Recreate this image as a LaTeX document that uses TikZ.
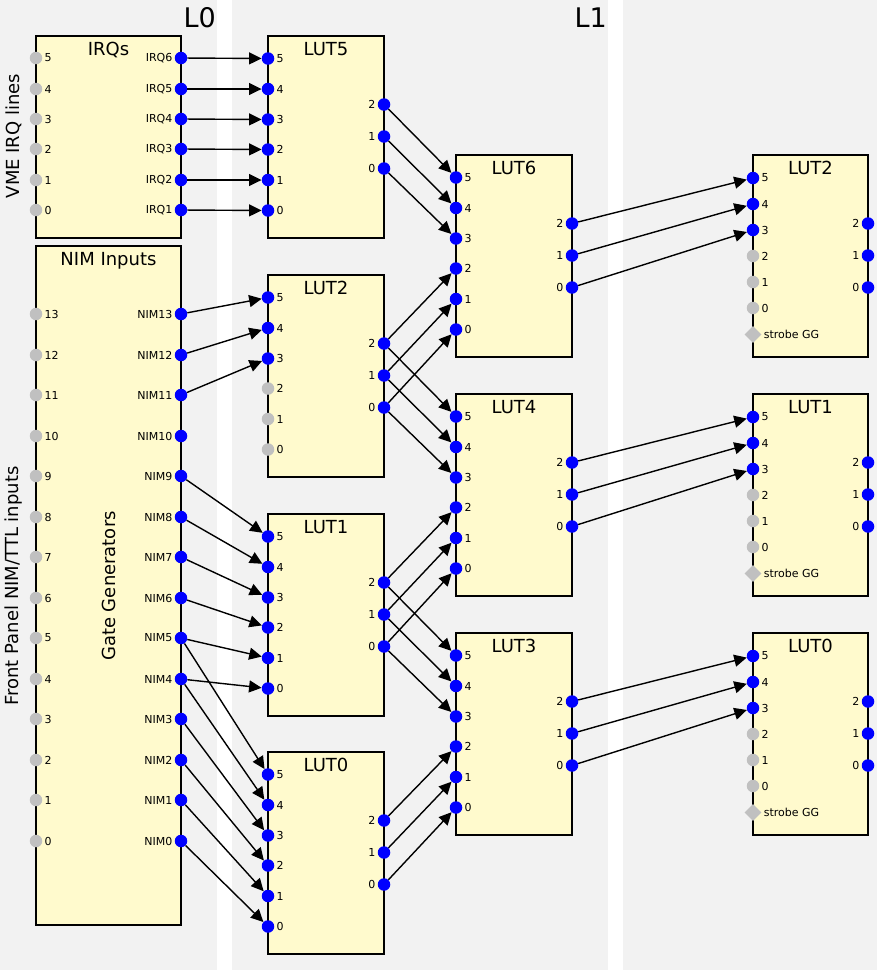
\documentclass[tikz,border=0pt]{standalone}
\usepackage{fontspec}
\setmainfont{DejaVu Sans}
\usepackage{tikz}
\usetikzlibrary{
  arrows.meta,
  shapes.geometric,
}
\definecolor{panelgray}{HTML}{F2F2F2}
\definecolor{lutyellow}{HTML}{FFFACD}
\definecolor{portgray}{HTML}{C0C0C0}

\begin{document}
\begin{tikzpicture}[
    x=1pt, y=-1pt,
    box/.style={draw=black, fill=lutyellow, line width=1.5pt, inner sep=0pt, outer sep=0pt, anchor=north west},
    lut/.style={box, minimum width=116pt, minimum height=202pt},
    ttl/.style={anchor=base, font=\fontsize{18}{20}\selectfont},
    sidetxt/.style={rotate=90, font=\fontsize{18}{20}\selectfont},
    lvl/.style={anchor=base east, inner sep=0pt, font=\fontsize{27}{30}\selectfont},
    live/.style={circle, fill=blue, inner sep=0pt, minimum size=12.5pt},
    idle/.style={circle, fill=portgray, inner sep=0pt, minimum size=12.5pt},
    gg/.style={diamond, fill=portgray, inner sep=0pt, minimum size=17pt},
    lbl/.style={font=\fontsize{11}{12}\selectfont, inner sep=2pt},
    wire/.style={draw=black, line width=1.4pt, -{Triangle[length=12.5pt, width=12pt]}},
  ]
  \useasboundingbox (0,0) rectangle (877,970);
  \fill[panelgray] (0,0) rectangle (217,970);
  \fill[panelgray] (232,0) rectangle (608,970);
  \fill[panelgray] (623,0) rectangle (877,970);
  \node[lvl] (lev0) at (216,27) {L0};
  \node[lvl] (lev1) at (607,27) {L1};

  \node[sidetxt] (vme) at (14,136) {VME IRQ lines};
  \node[sidetxt] (fp) at (14,586) {Front Panel NIM/TTL inputs};

  \node[box, minimum width=145pt, minimum height=202pt] (irqs) at (36,36) {};
  \node[ttl] (irqs-t) at (108.5,55) {IRQs};
  \foreach \i/\y/\l in {6/58/5, 5/89/4, 4/119/3, 3/149/2, 2/180/1, 1/210/0} {
    \node[idle, label={[lbl]right:\l}] (irqs-in\l) at (36,\y) {};
    \node[live, label={[lbl]left:IRQ\i}] (irqs-irq\i) at (181,\y) {};
  }

  \node[box, minimum width=145pt, minimum height=679pt] (nims) at (36,246) {};
  \node[ttl] (nims-t) at (108.5,265) {NIM Inputs};
  \node[sidetxt] (gg-t) at (108.5,586) {Gate Generators};
  \foreach \i/\y in {13/314, 12/355, 11/395, 10/436, 9/476, 8/517, 7/557,
                     6/598, 5/638, 4/679, 3/719, 2/760, 1/800, 0/841} {
    \node[idle, label={[lbl]right:\i}] (nims-in\i) at (36,\y) {};
    \node[live, label={[lbl]left:NIM\i}] (nims-nim\i) at (181,\y) {};
  }

  \foreach \n/\y/\s in {5/36/live, 2/275/idle, 1/514/live, 0/752/live} {
    \begin{scope}[shift={(268,\y)}]
      \node[lut] (l0lut\n) at (0,0) {};
      \node[ttl] (l0lut\n-t) at (58,19) {LUT\n};
      \foreach \p/\dy in {5/22.5, 4/53, 3/83.5}
        \node[live, label={[lbl]right:\p}] (l0lut\n-in\p) at (0,\dy) {};
      \foreach \p/\dy in {2/113.5, 1/144, 0/174.5}
        \node[\s, label={[lbl]right:\p}] (l0lut\n-in\p) at (0,\dy) {};
      \foreach \p/\dy in {2/68.5, 1/100.5, 0/132.5}
        \node[live, label={[lbl]left:\p}] (l0lut\n-out\p) at (116,\dy) {};
    \end{scope}
  }

  \foreach \n/\y in {6/155, 4/394, 3/633} {
    \begin{scope}[shift={(456,\y)}]
      \node[lut] (l1lut\n) at (0,0) {};
      \node[ttl] (l1lut\n-t) at (58,19) {LUT\n};
      \foreach \p/\dy in {5/22.5, 4/53, 3/83.5, 2/113.5, 1/144, 0/174.5}
        \node[live, label={[lbl]right:\p}] (l1lut\n-in\p) at (0,\dy) {};
      \foreach \p/\dy in {2/68.5, 1/100.5, 0/132.5}
        \node[live, label={[lbl]left:\p}] (l1lut\n-out\p) at (116,\dy) {};
    \end{scope}
  }

  \foreach \n/\y in {2/155, 1/394, 0/633} {
    \begin{scope}[shift={(753,\y)}]
      \node[lut, minimum width=115pt] (l2lut\n) at (0,0) {};
      \node[ttl] (l2lut\n-t) at (57.5,19) {LUT\n};
      \foreach \p/\dy in {5/23, 4/49, 3/75}
        \node[live, label={[lbl]right:\p}] (l2lut\n-in\p) at (0,\dy) {};
      \foreach \p/\dy in {2/101, 1/127, 0/153}
        \node[idle, label={[lbl]right:\p}] (l2lut\n-in\p) at (0,\dy) {};
      \node[gg, label={[lbl]right:strobe GG}] (l2lut\n-gg) at (0,179.5) {};
      \foreach \p/\dy in {2/68.5, 1/100.5, 0/132.5}
        \node[live, label={[lbl]left:\p}] (l2lut\n-out\p) at (115,\dy) {};
    \end{scope}
  }

  \foreach \a/\b in {6/5, 5/4, 4/3, 3/2, 2/1, 1/0}
    \draw[wire] (irqs-irq\a) -- (l0lut5-in\b);
  \foreach \a/\b in {13/5, 12/4, 11/3}
    \draw[wire] (nims-nim\a) -- (l0lut2-in\b);
  \foreach \a/\b in {9/5, 8/4, 7/3, 6/2, 5/1, 4/0}
    \draw[wire] (nims-nim\a) -- (l0lut1-in\b);
  \foreach \a in {5,4,3,2,1,0}
    \draw[wire] (nims-nim\a) -- (l0lut0-in\a);

  \foreach \a/\b in {2/5, 1/4, 0/3} {
    \draw[wire] (l0lut5-out\a) -- (l1lut6-in\b);
    \draw[wire] (l0lut2-out\a) -- (l1lut4-in\b);
    \draw[wire] (l0lut1-out\a) -- (l1lut3-in\b);
    \draw[wire] (l1lut6-out\a) -- (l2lut2-in\b);
    \draw[wire] (l1lut4-out\a) -- (l2lut1-in\b);
    \draw[wire] (l1lut3-out\a) -- (l2lut0-in\b);
  }
  \foreach \a in {2,1,0} {
    \draw[wire] (l0lut2-out\a) -- (l1lut6-in\a);
    \draw[wire] (l0lut1-out\a) -- (l1lut4-in\a);
    \draw[wire] (l0lut0-out\a) -- (l1lut3-in\a);
  }
\end{tikzpicture}
\end{document}
